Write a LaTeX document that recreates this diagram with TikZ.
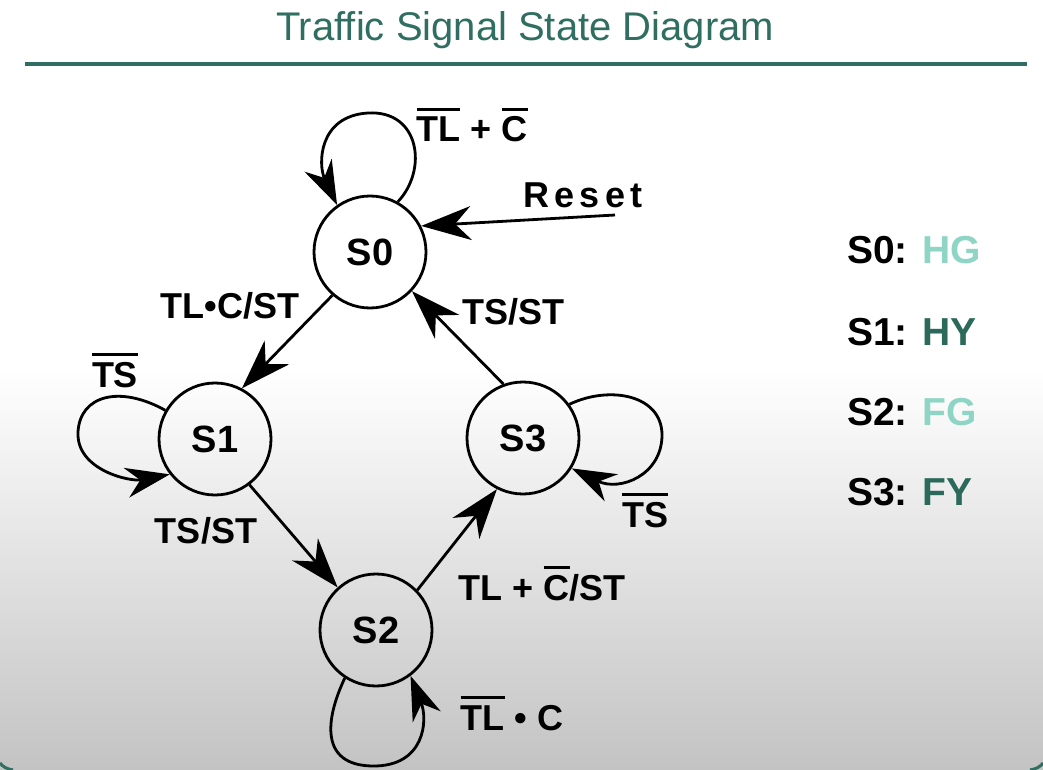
\documentclass[tikz,border=0pt]{standalone}
\usepackage{fontspec}
\setmainfont{Liberation Sans}
\newfontfamily\spacedfont[LetterSpace=15]{Liberation Sans}
\usetikzlibrary{arrows.meta}
\definecolor{tealdark}{HTML}{2F6E60}
\definecolor{teallight}{HTML}{8ED5C5}
\definecolor{tealmid}{HTML}{2B6A5B}
\definecolor{bggray}{HTML}{C3C3C3}
\newcommand\ovl[1]{\leavevmode\setbox0=\hbox{#1}\rlap{\rule[\dimexpr\ht0+6pt\relax]{\wd0}{2.8pt}}\box0\relax}
\begin{document}
\begin{tikzpicture}[x=1pt,y=-1pt,
  state/.style={circle,draw,line width=2.8pt,minimum size=112pt,inner sep=0pt,
    font=\bfseries\fontsize{38}{42}\selectfont},
  lbl/.style={anchor=base,inner sep=0pt,font=\bfseries\fontsize{36}{40}\selectfont},
  legend/.style={anchor=base west,inner sep=0pt,font=\bfseries\fontsize{39}{43}\selectfont},
  conn/.style={line width=2.8pt,-{Stealth[length=50pt,width=34pt,inset=16pt]}},
  loopc/.style={line width=2.8pt,-{Stealth[length=44pt,width=30pt,inset=14pt]}}]
\useasboundingbox (0,0) rectangle (1043,770);
\fill[white] (0,0) rectangle (1043,371);
\shade[top color=white,bottom color=bggray] (0,370) rectangle (1043,770);
% bottom corners of the frame
\draw[tealdark,line width=3pt] (0,763) .. controls (3,767) and (7,769) .. (13,770);
\draw[tealdark,line width=3pt] (1043,763) .. controls (1040,767) and (1036,769) .. (1030,770);
% title
\node[text=tealdark,anchor=base,inner sep=0pt,font=\fontsize{40}{44}\selectfont] (title) at (525,41) {Traffic Signal State Diagram};
\draw[tealdark,line width=4.5pt] (25,64) -- (1027,64);
% states
\node[state] (S0) at (370,252) {S0};
\node[state] (S1) at (215,439) {S1};
\node[state] (S2) at (376,630) {S2};
\node[state] (S3) at (523,438) {S3};
% reset
\coordinate (rst) at (615,215);
\draw[conn] (rst) -- (S0.27);
\node[lbl] (lreset) at (583,207) {\spacedfont Reset};
% transitions
\draw[conn] (S0.229) -- (S1.62);
\node[lbl] (l01) at (230,318) {TL•C/ST};
\draw[conn] (S3.110) -- (S0.-43);
\node[lbl] (l30) at (513,324) {TS/ST};
\draw[conn] (S1.-53) -- (S2.132);
\node[lbl] (l12) at (206,543) {TS/ST};
\draw[conn] (S2.44) -- (S3.243);
\node[lbl] (l23) at (542,600) {TL + \ovl{C}/ST};
% loops
\draw[loopc] (S0.61) .. controls (428,170) and (420,110) .. (368,113) .. controls (318,116) and (318,165) .. (S0.125);
\node[lbl] (l00) at (472,142) {\ovl{TL} + \ovl{C}};
\draw[loopc] (S1.150) .. controls (120,385) and (80,395) .. (78,432) .. controls (76,470) and (130,482) .. (S1.218);
\node[lbl] (l11) at (115,387) {\ovl{TS}};
\draw[loopc] (S3.36) .. controls (610,385) and (662,395) .. (662,435) .. controls (662,475) and (620,492) .. (S3.-32);
\node[lbl] (l33) at (645,527) {\ovl{TS}};
\draw[loopc] (S2.237) .. controls (325,720) and (320,765) .. (372,766) .. controls (425,767) and (428,720) .. (S2.-53);
\node[lbl] (l22) at (512,730) {\ovl{TL} • C};
% legend
\node[legend] (g0) at (847,263) {S0: \textcolor{teallight}{HG}};
\node[legend] (g1) at (847,345) {S1: \textcolor{tealmid}{HY}};
\node[legend] (g2) at (847,425) {S2: \textcolor{teallight}{FG}};
\node[legend] (g3) at (847,505) {S3: \textcolor{tealmid}{FY}};
\end{tikzpicture}
\end{document}
